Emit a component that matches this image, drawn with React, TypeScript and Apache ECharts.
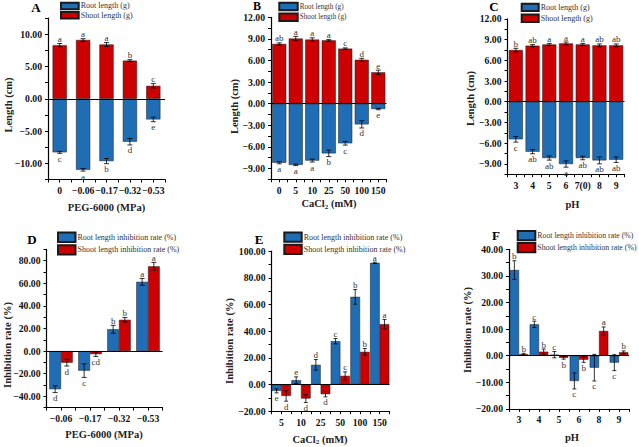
import React, { useEffect, useRef } from "react";
import * as echarts from "echarts";

const FONT = '"Liberation Serif", "Times New Roman", Times, serif';
const BLUE = "#1f6db5";
const RED = "#cc0000";
const EDGE = "#1a1a1a";

// ---------- Panel A: PEG-6000, lengths ----------
const aCategories = ["0", "−0.06", "−0.17", "−0.32", "−0.53"];
const aRoot = [-8.3, -11.0, -9.65, -6.65, -3.2];
const aRootErr = [0.15, 0.2, 0.4, 0.5, 0.35];
const aRootLetters = ["c", "a", "b", "d", "e"];
const aShoot = [8.3, 9.1, 8.4, 5.9, 2.0];
const aShootErr = [0.25, 0.2, 0.3, 0.15, 0.35];
const aShootLetters = ["a", "a", "a", "b", "c"];

// ---------- Panel B: CaCl2, lengths ----------
const bCategories = ["0", "5", "10", "25", "50", "100", "150"];
const bRoot = [-8.2, -8.5, -7.9, -6.9, -5.5, -2.87, -0.74];
const bRootErr = [0.15, 0.1, 0.2, 0.45, 0.25, 0.5, 0.1];
const bRootLetters = ["a", "a", "a", "b", "c", "d", "e"];
const bShoot = [8.3, 9.05, 8.9, 8.8, 7.65, 6.1, 4.36];
const bShootErr = [0.15, 0.3, 0.25, 0.1, 0.1, 0.2, 0.3];
const bShootLetters = ["ab", "a", "a", "a", "c", "d", "e"];

// ---------- Panel C: pH, lengths ----------
const cCategories = ["3", "4", "5", "6", "7(0)", "8", "9"];
const cRoot = [-5.45, -7.24, -8.16, -9.03, -8.16, -8.5, -8.4];
const cRootErr = [0.4, 0.3, 0.3, 0.45, 0.25, 0.5, 0.4];
const cRootLetters = ["c", "ab", "ab", "a", "ab", "ab", "ab"];
const cShoot = [7.49, 8.12, 8.3, 8.45, 8.3, 8.17, 8.17];
const cShootErr = [0.25, 0.15, 0.15, 0.2, 0.15, 0.2, 0.2];
const cShootLetters = ["b", "ab", "a", "a", "a", "ab", "ab"];

// ---------- Panel D: PEG-6000, inhibition ----------
const dCategories = ["−0.06", "−0.17", "−0.32", "−0.53"];
const dRoot = [-33.7, -17.3, 19.3, 61.3];
const dRootErr = [3, 6, 3.5, 3];
const dRootLetters = ["d", "c", "b", "a"];
const dShoot = [-10.2, -2.7, 27.7, 75];
const dShootErr = [3, 2, 2, 3.5];
const dShootLetters = ["d", "cd", "b", "a"];

// ---------- Panel E: CaCl2, inhibition ----------
const eCategories = ["5", "10", "25", "50", "100", "150"];
const eRoot = [-4.75, 3.25, 14.75, 32.5, 65.75, 91.25];
const eRootErr = [1.5, 2.5, 4, 2, 5.5, 0.5];
const eRootLetters = ["e", "e", "d", "c", "b", "a"];
const eShoot = [-8.5, -10.5, -7.25, 6.5, 24.5, 45.25];
const eShootErr = [4, 3, 2, 3, 2.5, 3.5];
const eShootLetters = ["d", "d", "d", "c", "b", "a"];

// ---------- Panel F: pH, inhibition ----------
const fCategories = ["3", "4", "5", "6", "8", "9"];
const fRoot = [32.2, 11.8, 0.4, -9.5, -4.5, -2.6];
const fRootErr = [3.5, 1.2, 1.2, 3, 5, 3];
const fRootLetters = ["b", "c", "c", "c", "c", "c"];
const fShoot = [0.6, 1.5, -0.8, -1.5, 9.3, 1.3];
const fShootErr = [0.3, 1, 0.5, 1, 1.5, 0.5];
const fShootLetters = ["b", "b", "b", "b", "a", "b"];

const lengthNames = ["Root length (g)", "Shoot length (g)"];
const inhibNames = ["Root length inhibition rate (%)", "Shoot length inhibition rate (%)"];

type Panel = {
  cats: string[];
  root: number[]; rootErr: number[]; rootLetters: string[];
  shoot: number[]; shootErr: number[]; shootLetters: string[];
  names: string[];
  grouped: boolean;
  barWidth: number;
  cap: number;
  grid: { left: number; top: number; width: number; height: number };
  y: { min: number; max: number; interval: number; every: number };
  legend: { left: number; top: number; w: number; h: number; gap: number; font: number };
};

const panels: Panel[] = [
  {
    cats: aCategories, root: aRoot, rootErr: aRootErr, rootLetters: aRootLetters,
    shoot: aShoot, shootErr: aShootErr, shootLetters: aShootLetters, names: lengthNames,
    grouped: false, barWidth: 14.2, cap: 2.5,
    grid: { left: 48, top: 18, width: 117, height: 161.5 },
    y: { min: -12.5, max: 12.5, interval: 2.5, every: 5 },
    legend: { left: 60, top: 1.7, w: 17.7, h: 6.5, gap: 0.8, font: 8 },
  },
  {
    cats: bCategories, root: bRoot, rootErr: bRootErr, rootLetters: bRootLetters,
    shoot: bShoot, shootErr: bShootErr, shootLetters: bShootLetters, names: lengthNames,
    grouped: false, barWidth: 14, cap: 2.5,
    grid: { left: 271, top: 17.3, width: 115.5, height: 162 },
    y: { min: -10.5, max: 12, interval: 1.5, every: 3 },
    legend: { left: 278.3, top: 1.7, w: 18.4, h: 7.6, gap: 1.2, font: 7.2 },
  },
  {
    cats: cCategories, root: cRoot, rootErr: cRootErr, rootLetters: cRootLetters,
    shoot: cShoot, shootErr: cShootErr, shootLetters: cShootLetters, names: lengthNames,
    grouped: false, barWidth: 14, cap: 2.5,
    grid: { left: 507.5, top: 18.9, width: 117, height: 155.3 },
    y: { min: -10.5, max: 12, interval: 1.5, every: 3 },
    legend: { left: 520.7, top: 2.7, w: 17, h: 7.3, gap: 1.6, font: 8 },
  },
  {
    cats: dCategories, root: dRoot, rootErr: dRootErr, rootLetters: dRootLetters,
    shoot: dShoot, shootErr: dShootErr, shootLetters: dShootLetters, names: inhibNames,
    grouped: true, barWidth: 11.7, cap: 2.5,
    grid: { left: 46.5, top: 249.4, width: 116, height: 158.2 },
    y: { min: -50, max: 90, interval: 10, every: 20 },
    legend: { left: 57, top: 231.6, w: 17.5, h: 9.4, gap: 1.2, font: 8 },
  },
  {
    cats: eCategories, root: eRoot, rootErr: eRootErr, rootLetters: eRootLetters,
    shoot: eShoot, shootErr: eShootErr, shootLetters: eShootLetters, names: inhibNames,
    grouped: true, barWidth: 9.6, cap: 2,
    grid: { left: 271.5, top: 251.2, width: 118, height: 160 },
    y: { min: -20, max: 100, interval: 10, every: 20 },
    legend: { left: 283.3, top: 231.4, w: 17.4, h: 9.3, gap: 1.1, font: 8 },
  },
  {
    cats: fCategories, root: fRoot, rootErr: fRootErr, rootLetters: fRootLetters,
    shoot: fShoot, shootErr: fShootErr, shootLetters: fShootLetters, names: inhibNames,
    grouped: true, barWidth: 9.3, cap: 2,
    grid: { left: 509, top: 249.3, width: 120, height: 159.6 },
    y: { min: -20, max: 40, interval: 5, every: 10 },
    legend: { left: 516.7, top: 230, w: 17.6, h: 9.3, gap: 0.7, font: 7.8 },
  },
];

const panelLetters = [
  { t: "A", x: 36, y: 7, s: 13 },
  { t: "B", x: 257, y: 6, s: 12 },
  { t: "C", x: 494, y: 6.8, s: 13 },
  { t: "D", x: 32, y: 239, s: 13 },
  { t: "E", x: 259, y: 239.5, s: 13 },
  { t: "F", x: 496, y: 235, s: 13 },
];

const xTitles = [
  { t: "PEG-6000 (MPa)", x: 106.5, y: 207.5 },
  { t: "CaCl{s|2} (mM)", x: 329, y: 203.5 },
  { t: "pH", x: 572.5, y: 204.5 },
  { t: "PEG-6000 (MPa)", x: 104, y: 434 },
  { t: "CaCl{s|2} (mM)", x: 320, y: 439 },
  { t: "pH", x: 572, y: 437.5 },
];

const yTitles = [
  { t: "Length (cm)", x: 8, y: 105 },
  { t: "Length (cm)", x: 234, y: 106.5 },
  { t: "Length (cm)", x: 470, y: 98.5 },
  { t: "Inhibition rate (%)", x: 7, y: 345 },
  { t: "Inhibition rate (%)", x: 229.5, y: 341 },
  { t: "Inhibition rate (%)", x: 467.5, y: 330 },
];

const fmtVal = (v: number) => (v < 0 ? "−" : "") + Math.abs(v).toFixed(2);

function makeErr(letters: string[], offset: number, cap: number) {
  return (params: any, api: any) => {
    const i = api.value(0);
    const v = api.value(1);
    const e = api.value(2);
    const p = api.coord([i, v]);
    const x = p[0] + offset;
    const yHi = api.coord([i, v + e])[1];
    const yLo = api.coord([i, v - e])[1];
    const up = v >= 0;
    const ls = { stroke: "#000", lineWidth: 0.8 };
    return {
      type: "group",
      children: [
        { type: "line", shape: { x1: x, y1: yHi, x2: x, y2: yLo }, style: ls },
        { type: "line", shape: { x1: x - cap, y1: yHi, x2: x + cap, y2: yHi }, style: ls },
        { type: "line", shape: { x1: x - cap, y1: yLo, x2: x + cap, y2: yLo }, style: ls },
        {
          type: "text",
          x,
          y: up ? yHi : yLo + 1,
          style: {
            text: letters[params.dataIndex],
            fill: "#333",
            fontSize: 9,
            fontFamily: FONT,
            align: "center",
            verticalAlign: up ? "bottom" : "top",
          },
        },
      ],
    };
  };
}

function buildOption() {
  const grid: any[] = [];
  const xAxis: any[] = [];
  const yAxis: any[] = [];
  const series: any[] = [];
  const legend: any[] = [];
  const axisColor = { color: "#000", width: 1.2 };
  const labelFont = { fontFamily: FONT, fontSize: 9.7, fontWeight: "bold", color: "#111" };

  panels.forEach((p, k) => {
    grid.push({ ...p.grid, containLabel: false, outerBoundsMode: "none" });
    xAxis.push({
      type: "category",
      gridIndex: k,
      data: p.cats,
      position: "bottom",
      axisLine: { show: true, onZero: false, lineStyle: axisColor },
      axisTick: { show: true, alignWithLabel: false, length: 3, lineStyle: { color: "#000", width: 1 } },
      axisLabel: { interval: 0, margin: 6, ...labelFont },
      splitLine: { show: false },
    });
    xAxis.push({
      type: "category",
      gridIndex: k,
      data: p.cats,
      position: "bottom",
      axisLine: { show: false, onZero: false },
      axisTick: { show: true, alignWithLabel: true, interval: 0, length: 3, lineStyle: { color: "#000", width: 1 } },
      axisLabel: { show: false },
      splitLine: { show: false },
    });
    const every = p.y.every;
    yAxis.push({
      type: "value",
      gridIndex: k,
      min: p.y.min,
      max: p.y.max,
      interval: p.y.interval,
      axisLine: { show: true, lineStyle: axisColor },
      axisTick: { show: true, length: 3, lineStyle: { color: "#000", width: 1 } },
      splitLine: { show: false },
      axisLabel: {
        margin: 6,
        ...labelFont,
        formatter: (v: number) => {
          const r = v / every;
          return Math.abs(r - Math.round(r)) < 1e-6 ? fmtVal(v) : "";
        },
      },
    });
    const gap = p.grouped ? "0%" : "-100%";
    const half = p.grouped ? p.barWidth / 2 : 0;
    series.push({
      type: "bar",
      name: p.names[0],
      xAxisIndex: 2 * k,
      yAxisIndex: k,
      data: p.root,
      barWidth: p.barWidth,
      barGap: gap,
      itemStyle: { color: BLUE, borderColor: EDGE, borderWidth: 0.5 },
      markLine: {
        silent: true,
        symbol: ["none", "none"],
        label: { show: false },
        lineStyle: { color: "#000", width: 1, type: "solid" },
        data: [{ yAxis: 0 }],
      },
    });
    series.push({
      type: "bar",
      name: p.names[1],
      xAxisIndex: 2 * k,
      yAxisIndex: k,
      data: p.shoot,
      barWidth: p.barWidth,
      barGap: gap,
      itemStyle: { color: RED, borderColor: EDGE, borderWidth: 0.5 },
    });
    series.push({
      type: "custom",
      xAxisIndex: 2 * k,
      yAxisIndex: k,
      silent: true,
      z: 5,
      encode: { x: 0, y: 1 },
      data: p.root.map((v, i) => [i, v, p.rootErr[i]]),
      renderItem: makeErr(p.rootLetters, -half, p.cap),
    });
    series.push({
      type: "custom",
      xAxisIndex: 2 * k,
      yAxisIndex: k,
      silent: true,
      z: 5,
      encode: { x: 0, y: 1 },
      data: p.shoot.map((v, i) => [i, v, p.shootErr[i]]),
      renderItem: makeErr(p.shootLetters, half, p.cap),
    });
    legend.push({
      orient: "vertical",
      left: p.legend.left,
      top: p.legend.top,
      padding: 0,
      itemWidth: p.legend.w,
      itemHeight: p.legend.h,
      itemGap: p.legend.gap,
      icon: "rect",
      selectedMode: false,
      data: p.names,
      textStyle: {
        fontFamily: FONT,
        fontSize: p.legend.font,
        color: "#333",
        lineHeight: Math.min(p.legend.h, p.legend.font),
        padding: [0, 0, 0, -3],
      },
    });
  });

  const graphic: any[] = [];
  panelLetters.forEach((l) =>
    graphic.push({
      type: "text",
      x: l.x,
      y: l.y,
      style: { text: l.t, fontFamily: FONT, fontSize: l.s, fontWeight: "bold", fill: "#000", align: "center", verticalAlign: "middle" },
    })
  );
  xTitles.forEach((l) =>
    graphic.push({
      type: "text",
      x: l.x,
      y: l.y,
      style: {
        text: l.t,
        fontFamily: FONT,
        fontSize: 10.5,
        fontWeight: "bold",
        fill: "#222",
        align: "center",
        verticalAlign: "middle",
        lineHeight: 13,
        rich: {
          s: { fontFamily: FONT, fontSize: 7, fontWeight: "bold", fill: "#222", verticalAlign: "bottom", lineHeight: 6 },
        },
      },
    })
  );
  yTitles.forEach((l) =>
    graphic.push({
      type: "text",
      x: l.x,
      y: l.y,
      rotation: Math.PI / 2,
      style: { text: l.t, fontFamily: FONT, fontSize: 10.5, fontWeight: "bold", fill: "#222", align: "center", verticalAlign: "middle" },
    })
  );

  return {
    animation: false,
    backgroundColor: "#fff",
    grid,
    xAxis,
    yAxis,
    legend,
    series,
    graphic,
  };
}

export default function App() {
  const ref = useRef<HTMLDivElement>(null);
  useEffect(() => {
    if (!ref.current) return;
    const chart = echarts.init(ref.current, undefined, { renderer: "svg" });
    chart.setOption(buildOption() as any);
    return () => chart.dispose();
  }, []);
  return (
    <div
      ref={ref}
      style={{ position: "absolute", left: 0, top: 0, width: 639, height: 447, background: "#fff" }}
    />
  );
}
